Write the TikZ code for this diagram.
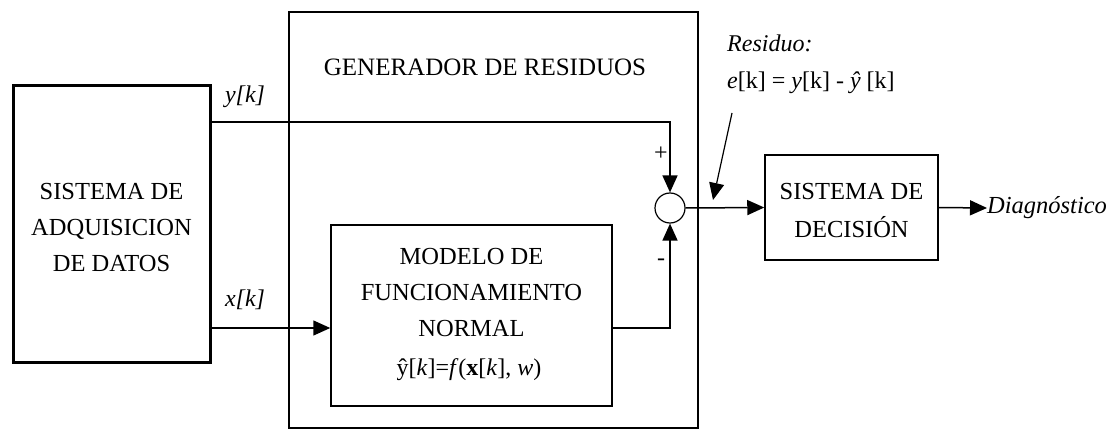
\documentclass[tikz,border=0pt]{standalone}
\usepackage{fontspec}
\setmainfont{Liberation Serif}
\usetikzlibrary{arrows.meta}
\begin{document}
\begin{tikzpicture}[x=1pt,y=-1pt,
  lbl/.style={inner sep=0pt,font=\fontsize{24}{28}\selectfont},
  arr/.style={line width=1.5pt,-{Triangle[length=17pt,width=15pt]}}]
\useasboundingbox (0,0) rectangle (1118,430);
% boxes
\node[draw,line width=3pt,minimum width=197pt,minimum height=276pt,inner sep=0pt] (adq) at (111.5,224) {};
\node[align=center,font=\fontsize{24.5}{36}\selectfont] (adqt) at (111.5,228) {SISTEMA DE\\ADQUISICION\\DE DATOS};
\node[draw,line width=1.5pt,minimum width=409pt,minimum height=416pt,inner sep=0pt] (gen) at (493.5,220) {};
\node[lbl,font=\fontsize{25}{30}\selectfont] (gent) at (485,67) {GENERADOR DE RESIDUOS};
\node[draw,line width=1.5pt,minimum width=281pt,minimum height=181pt,inner sep=0pt] (mod) at (471.5,315.5) {};
\node[align=center,font=\fontsize{24.5}{36}\selectfont] (modt) at (471.5,293) {MODELO DE\\FUNCIONAMIENTO\\NORMAL};
\node[lbl] (modf) at (469,370) {ŷ[\textit{k}]=\textit{f}(\textbf{x}[\textit{k}], \textit{w})};
\node[draw,line width=1.5pt,minimum width=173pt,minimum height=105pt,inner sep=0pt] (dec) at (851.5,207.5) {};
\node[align=center,font=\fontsize{24.5}{38}\selectfont] (dect) at (851.5,211) {SISTEMA DE\\DECISIÓN};
\node[draw,line width=1.2pt,circle,minimum size=30pt,inner sep=0pt] (sum) at (670,208) {};
% labels
\node[lbl,font=\itshape\fontsize{24}{28}\selectfont] (ylab) at (245,97) {y[k]};
\node[lbl,font=\itshape\fontsize{24}{28}\selectfont] (xlab) at (245,300) {x[k]};
\node[lbl] (plus) at (661,154) {+};
\node[lbl] (minus) at (661,262) {-};
\node[lbl,anchor=west,font=\itshape\fontsize{24}{28}\selectfont] (res) at (727,43) {Residuo:};
\node[lbl,anchor=west] (eq) at (727,83) {\textit{e}[k] = \textit{y}[k] - \textit{ŷ} [k]};
\node[lbl,anchor=west,font=\itshape\fontsize{24.5}{28}\selectfont] (diag) at (987,208) {Diagnóstico};
% connector points
\coordinate (yc) at (670,122);
\coordinate (mc) at (670,328);
\coordinate (rs) at (732,113);
\coordinate (re) at (713,200);
% connectors
\draw[arr] (adq.east |- yc) -- (yc) -- (sum.north);
\draw[arr] (adq.east |- mc) -- (mod.west |- mc);
\draw[arr] (mod.east |- mc) -- (mc) -- (sum.south);
\draw[arr] (sum.east) -- (dec.west);
\draw[arr] (dec.east) -- (diag.west);
\draw[arr,line width=1.2pt] (rs) -- (re);
\end{tikzpicture}
\end{document}
